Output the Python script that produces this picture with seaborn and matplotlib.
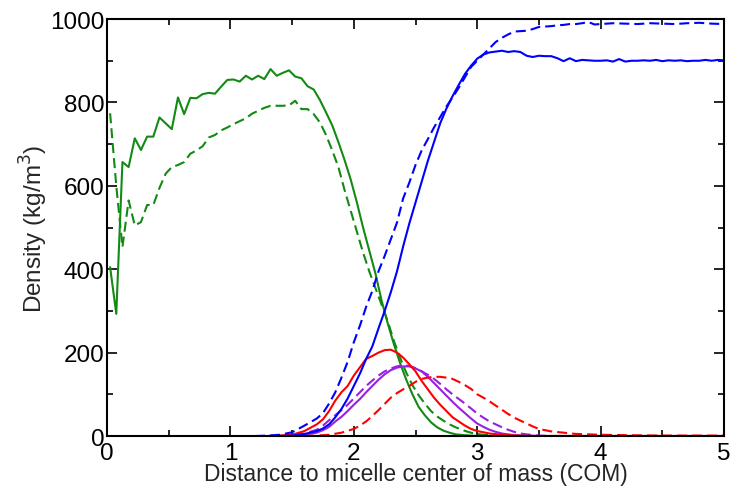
import matplotlib
matplotlib.use("Agg")
import matplotlib.pyplot as plt
from matplotlib.ticker import MultipleLocator
import seaborn as sns
import pandas as pd

# green: core density (solid / dashed)
green_solid_x = [0.025, 0.075, 0.125, 0.175, 0.225, 0.275, 0.325, 0.375, 0.425, 0.475,
                 0.525, 0.575, 0.625, 0.675, 0.725, 0.775, 0.825, 0.875, 0.925, 0.975,
                 1.025, 1.075, 1.125, 1.175, 1.225, 1.275, 1.325, 1.375, 1.425, 1.475,
                 1.525, 1.575, 1.625, 1.675, 1.725, 1.775, 1.825, 1.875, 1.925, 1.975,
                 2.025, 2.075, 2.125, 2.175, 2.225, 2.275, 2.325, 2.375, 2.425, 2.475,
                 2.525, 2.575, 2.625, 2.675, 2.725, 2.775, 2.825, 2.9, 3.0, 5.0]
green_solid_y = [405, 293, 657, 645, 714, 686, 718, 718, 764, 750,
                 736, 812, 772, 811, 810, 820, 823, 821, 838, 854,
                 855, 850, 864, 855, 864, 856, 880, 864, 871, 877,
                 862, 858, 839, 831, 806, 776, 745, 705, 662, 615,
                 560, 500, 445, 390, 325, 270, 220, 175, 135, 100,
                 70, 50, 33, 21, 13, 8, 4, 2, 0, 0]

green_dash_x = [0.025, 0.075, 0.125, 0.175, 0.225, 0.275, 0.325, 0.375, 0.425, 0.475,
                0.525, 0.575, 0.625, 0.675, 0.725, 0.775, 0.825, 0.875, 0.925, 0.975,
                1.025, 1.075, 1.125, 1.175, 1.225, 1.275, 1.325, 1.375, 1.425, 1.475,
                1.525, 1.575, 1.625, 1.675, 1.725, 1.775, 1.825, 1.875, 1.925, 1.975,
                2.025, 2.075, 2.125, 2.175, 2.225, 2.275, 2.325, 2.375, 2.425, 2.475,
                2.525, 2.575, 2.625, 2.675, 2.725, 2.775, 2.825, 2.875, 2.925, 2.975,
                3.05, 3.2, 3.4, 5.0]
green_dash_y = [774, 600, 453, 565, 505, 513, 554, 554, 595, 629,
                645, 650, 657, 677, 685, 695, 716, 722, 733, 740,
                748, 755, 762, 773, 780, 787, 792, 792, 792, 793,
                804, 784, 784, 772, 752, 722, 685, 645, 590, 540,
                490, 440, 395, 355, 315, 275, 228, 188, 152, 122,
                98, 78, 60, 47, 37, 28, 21, 15, 10, 6,
                3, 1, 0, 0]

# blue: water density
blue_solid_x = [1.3, 1.4, 1.5, 1.6, 1.7, 1.75, 1.8, 1.85, 1.9, 1.95,
                2.0, 2.05, 2.1, 2.15, 2.2, 2.25, 2.3, 2.35, 2.4, 2.45,
                2.5, 2.55, 2.6, 2.65, 2.7, 2.75, 2.8, 2.85, 2.9, 2.95,
                3.0, 3.05, 3.1, 3.15, 3.2, 3.25, 3.3, 3.35, 3.4, 3.45,
                3.5, 3.55, 3.6, 3.65, 3.7, 3.75, 3.8, 3.85, 3.9, 3.95,
                4.0, 4.05, 4.1, 4.15, 4.2, 4.25, 4.3, 4.35, 4.4, 4.45,
                4.5, 4.55, 4.6, 4.65, 4.7, 4.75, 4.8, 4.85, 4.9, 4.95, 5.0]
blue_solid_y = [0, 0, 1, 5, 12, 18, 28, 45, 65, 90,
                120, 150, 185, 215, 258, 300, 345, 395, 455, 510,
                560, 610, 660, 705, 750, 785, 815, 842, 868, 888,
                905, 915, 920, 922, 924, 921, 923, 921, 912, 909,
                912, 911, 911, 906, 899, 906, 899, 902, 901, 900,
                900, 901, 898, 904, 898, 900, 900, 901, 900, 902,
                899, 901, 900, 901, 899, 900, 900, 902, 900, 902, 901]

blue_dash_x = [1.2, 1.3, 1.4, 1.5, 1.6, 1.7, 1.75, 1.8, 1.85, 1.9,
               1.95, 2.0, 2.05, 2.1, 2.15, 2.2, 2.25, 2.3, 2.35, 2.4,
               2.45, 2.5, 2.55, 2.6, 2.65, 2.7, 2.75, 2.8, 2.85, 2.9,
               2.95, 3.0, 3.05, 3.1, 3.15, 3.2, 3.25, 3.3, 3.35, 3.4,
               3.45, 3.5, 3.55, 3.6, 3.65, 3.7, 3.75, 3.8, 3.85, 3.9,
               3.95, 4.0, 4.1, 4.2, 4.3, 4.4, 4.5, 4.6, 4.7, 4.8, 4.9, 5.0]
blue_dash_y = [0, 1, 3, 9, 25, 42, 55, 78, 105, 140,
               178, 225, 265, 310, 348, 395, 432, 472, 512, 570,
               608, 650, 685, 712, 740, 765, 790, 812, 835, 860,
               885, 900, 915, 930, 945, 955, 963, 970, 971, 972,
               976, 981, 982, 983, 985, 986, 988, 988, 990, 993,
               987, 988, 990, 989, 988, 990, 989, 988, 990, 991, 989, 988]

# red: head groups
red_solid_x = [1.3, 1.4, 1.5, 1.6, 1.7, 1.75, 1.8, 1.85, 1.9, 1.95,
               2.0, 2.05, 2.1, 2.15, 2.2, 2.25, 2.3, 2.35, 2.4, 2.45,
               2.5, 2.55, 2.6, 2.65, 2.7, 2.75, 2.8, 2.85, 2.9, 2.95,
               3.0, 3.1, 3.2, 3.3, 3.5, 5.0]
red_solid_y = [0, 1, 3, 12, 28, 40, 60, 85, 105, 120,
               145, 165, 185, 192, 200, 206, 207, 200, 188, 172,
               155, 132, 112, 92, 75, 60, 45, 35, 25, 17,
               12, 6, 3, 1, 0, 0]

red_dash_x = [1.6, 1.7, 1.8, 1.9, 2.0, 2.05, 2.1, 2.15, 2.2, 2.25,
              2.3, 2.35, 2.4, 2.45, 2.5, 2.55, 2.6, 2.65, 2.7, 2.75,
              2.8, 2.85, 2.9, 2.95, 3.0, 3.05, 3.1, 3.15, 3.2, 3.25,
              3.3, 3.35, 3.4, 3.45, 3.5, 3.6, 3.7, 3.8, 3.9, 4.0,
              4.2, 4.5, 5.0]
red_dash_y = [0, 1, 3, 8, 17, 25, 35, 48, 62, 77,
              92, 103, 112, 120, 130, 137, 140, 142, 142, 140,
              137, 130, 122, 113, 100, 92, 83, 73, 63, 53,
              44, 37, 30, 23, 17, 11, 8, 5, 4, 3,
              2, 1, 1]

# purple: tail groups
purple_solid_x = [1.4, 1.5, 1.6, 1.7, 1.75, 1.8, 1.85, 1.9, 1.95, 2.0,
                  2.05, 2.1, 2.15, 2.2, 2.25, 2.3, 2.35, 2.4, 2.45, 2.5,
                  2.55, 2.6, 2.65, 2.7, 2.75, 2.8, 2.85, 2.9, 2.95, 3.0,
                  3.05, 3.1, 3.15, 3.2, 3.3, 3.4, 3.5, 5.0]
purple_solid_y = [0, 1, 3, 8, 14, 22, 35, 46, 60, 75,
                  89, 105, 120, 135, 148, 158, 164, 167, 167, 162,
                  155, 142, 127, 112, 97, 82, 68, 55, 42, 30,
                  22, 15, 10, 6, 2, 1, 0, 0]

purple_dash_x = [1.4, 1.5, 1.6, 1.7, 1.75, 1.8, 1.85, 1.9, 1.95, 2.0,
                 2.05, 2.1, 2.15, 2.2, 2.25, 2.3, 2.35, 2.4, 2.45, 2.5,
                 2.55, 2.6, 2.65, 2.7, 2.75, 2.8, 2.85, 2.9, 2.95, 3.0,
                 3.05, 3.1, 3.15, 3.2, 3.25, 3.3, 3.35, 3.4, 3.5, 3.6, 5.0]
purple_dash_y = [0, 2, 6, 15, 25, 38, 50, 62, 75, 90,
                 105, 120, 133, 145, 155, 162, 167, 170, 168, 163,
                 155, 147, 137, 125, 112, 100, 89, 78, 66, 54,
                 44, 35, 28, 21, 15, 10, 6, 4, 1, 0, 0]

GREEN = "#138a13"
BLUE = "#0000ff"
RED = "#ff0000"
PURPLE = "#9a1fe0"

series = [
    (green_solid_x, green_solid_y, GREEN, "-"),
    (green_dash_x, green_dash_y, GREEN, "--"),
    (purple_solid_x, purple_solid_y, PURPLE, "-"),
    (purple_dash_x, purple_dash_y, PURPLE, "--"),
    (red_solid_x, red_solid_y, RED, "-"),
    (red_dash_x, red_dash_y, RED, "--"),
    (blue_solid_x, blue_solid_y, BLUE, "-"),
    (blue_dash_x, blue_dash_y, BLUE, "--"),
]

sns.set_style("ticks")
plt.rcParams["font.family"] = ["Liberation Sans", "DejaVu Sans"]

fig = plt.figure(figsize=(7.3, 4.89), dpi=100)
ax = fig.add_axes([0.1466, 0.1063, 0.8452, 0.8527])

for xs, ys, color, ls in series:
    df = pd.DataFrame({"x": xs, "y": ys})
    sns.lineplot(data=df, x="x", y="y", ax=ax, color=color, estimator=None,
                 sort=False, linewidth=1.5, linestyle=ls)
    if ls == "--":
        ax.lines[-1].set_dashes((4.8, 2.4))

ax.set_xlim(0, 5)
ax.set_ylim(0, 1000)
ax.xaxis.set_major_locator(MultipleLocator(1))
ax.xaxis.set_minor_locator(MultipleLocator(0.5))
ax.yaxis.set_major_locator(MultipleLocator(200))
ax.yaxis.set_minor_locator(MultipleLocator(100))
ax.tick_params(which="both", direction="in", top=True, right=True, width=1.2, colors="black")
ax.tick_params(which="major", length=7, labelsize=17.5)
ax.tick_params(axis="x", which="major", pad=4)
ax.tick_params(axis="y", which="major", pad=2)
ax.tick_params(which="minor", length=4)
for sp in ax.spines.values():
    sp.set_linewidth(1.5)
    sp.set_color("black")

ax.set_xlabel("Distance to micelle center of mass (COM)", fontsize=16.5, labelpad=-1)
ax.set_ylabel("Density (kg/m$^3$)", fontsize=17.5, labelpad=0)

fig.savefig("out.png", dpi=100)
